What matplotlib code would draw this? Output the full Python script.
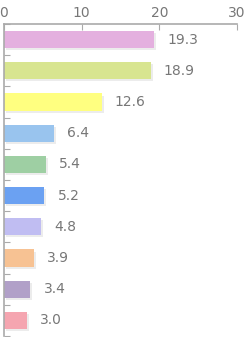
import matplotlib.pyplot as plt
import matplotlib.patheffects as pe
import numpy as np

values = [19.3, 18.9, 12.6, 6.4, 5.4, 5.2, 4.8, 3.9, 3.4, 3.0]
colors = ["#E4B0DF", "#D8E590", "#FFFF80", "#99C4EE", "#9ECFA3",
          "#6BA1F2", "#C0BDF2", "#F7C293", "#B1A0C8", "#F5A5B0"]
xticks = [0, 10, 20, 30]

fig = plt.figure(figsize=(2.46, 3.37), dpi=100)
ax = fig.add_axes([4 / 246, 1 / 337, 233 / 246, 312 / 337])

y = np.arange(len(values))
bars = ax.barh(y, values, height=0.55, color=colors, zorder=2)
for b in bars:
    b.set_path_effects([pe.SimplePatchShadow(offset=(1.5, -1.5), shadow_rgbFace="#999999", alpha=0.18),
                        pe.Normal()])

for yi, v in zip(y, values):
    ax.annotate(f"{v:.1f}", (v, yi), xytext=(9.4, 0), textcoords="offset points",
                va="center", ha="left", fontsize=10, color="#777777")

ax.set_xlim(0, 30)
ax.set_ylim(len(values) - 0.5, -0.5)
ax.set_xticks(xticks)
ax.set_yticks(np.arange(len(values) + 1) - 0.5)
ax.set_yticklabels([])
ax.xaxis.tick_top()
ax.tick_params(axis="x", direction="in", length=4, color="#aaaaaa", labelcolor="#777777",
               labelsize=10, pad=3)
ax.tick_params(axis="y", direction="in", length=4, color="#aaaaaa")
for s in ["right", "bottom"]:
    ax.spines[s].set_visible(False)
for s in ["left", "top"]:
    ax.spines[s].set_color("#aaaaaa")
    ax.spines[s].set_linewidth(1.2)

fig.savefig("out.png", dpi=100)
